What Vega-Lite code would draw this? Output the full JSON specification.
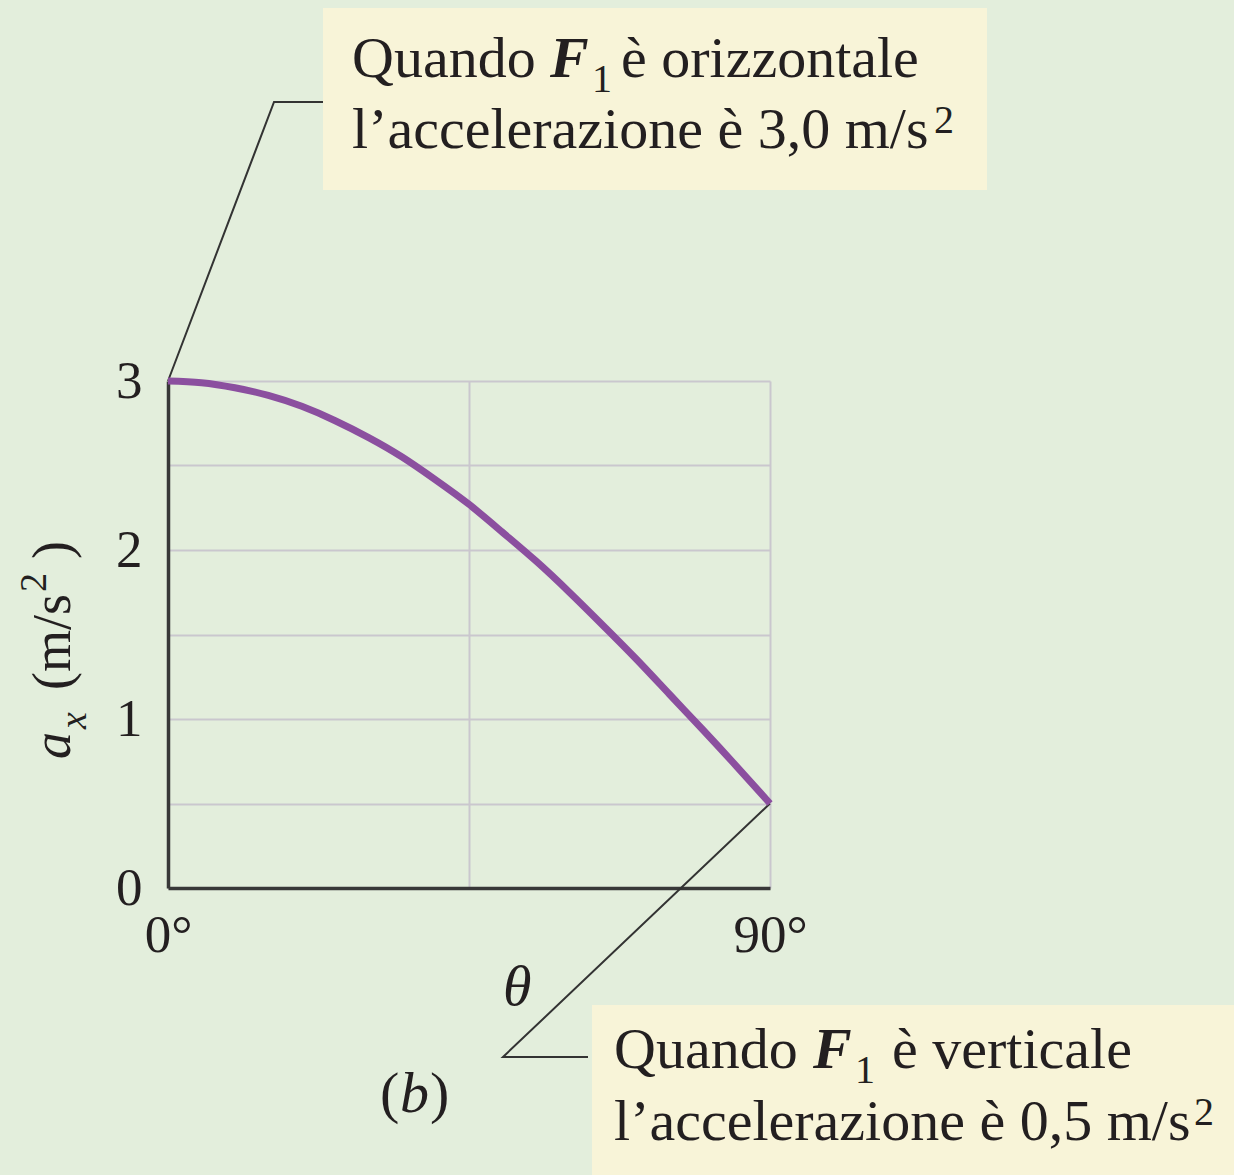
{
  "$schema": "https://vega.github.io/schema/vega-lite/v6.json",
  "width": 602,
  "height": 507,
  "autosize": {"type": "none"},
  "padding": {"left": 168, "top": 381, "right": 464, "bottom": 287},
  "background": "#e3eedc",
  "config": {"view": {"stroke": null}},
  "encoding": {
    "x": {
      "field": "x", "type": "quantitative",
      "scale": {"domain": [0, 90], "nice": false, "zero": false},
      "axis": {
        "values": [0, 45, 90], "title": null, "grid": true, "gridColor": "#cac7ce", "gridWidth": 2,
        "ticks": false, "tickSize": 0, "domainColor": "#383838", "domainWidth": 3.5,
        "labelFont": "Liberation Serif", "labelFontSize": 53, "labelColor": "#231f20",
        "labelBaseline": "alphabetic", "labelPadding": 63, "labelFlush": false, "labelOverlap": false,
        "labelExpr": "datum.value == 45 ? '' : datum.value + '°'"
      }
    },
    "y": {
      "field": "y", "type": "quantitative",
      "scale": {"domain": [0, 3], "nice": false, "zero": false},
      "axis": {
        "values": [0, 0.5, 1, 1.5, 2, 2.5, 3], "title": null, "grid": true, "gridColor": "#cac7ce", "gridWidth": 2,
        "ticks": false, "tickSize": 0, "domainColor": "#383838", "domainWidth": 3.5,
        "labelFont": "Liberation Serif", "labelFontSize": 53, "labelColor": "#231f20",
        "labelBaseline": "middle", "labelPadding": 26, "labelFlush": false, "labelOverlap": false,
        "labelExpr": "datum.value % 1 == 0 ? format(datum.value, 'd') : ''"
      }
    }
  },
  "layer": [
    {
      "data": {"values": [
        {"x": 23.17, "x2": 122.44, "y": 5.207, "y2": 4.130},
        {"x": 63.39, "x2": 160.5, "y": -0.692, "y2": -1.75}
      ]},
      "mark": {"type": "rect", "color": "#f8f4d8"},
      "encoding": {"x2": {"field": "x2"}, "y2": {"field": "y2"}}
    },
    {
      "data": {"values": [
        {"x": 0, "y": 3, "g": "top", "o": 1},
        {"x": 15.85, "y": 4.651, "g": "top", "o": 2},
        {"x": 23.17, "y": 4.651, "g": "top", "o": 3},
        {"x": 90, "y": 0.5, "g": "bottom", "o": 1},
        {"x": 50.08, "y": -1.0, "g": "bottom", "o": 2},
        {"x": 62.79, "y": -1.0, "g": "bottom", "o": 3}
      ]},
      "mark": {"type": "line", "color": "#333333", "strokeWidth": 2},
      "encoding": {"detail": {"field": "g"}, "order": {"field": "o"}}
    },
    {
      "data": {"values": [
        {"x": 0, "y": 3.00}, {"x": 5, "y": 2.99}, {"x": 10, "y": 2.96}, {"x": 15, "y": 2.915},
        {"x": 20, "y": 2.85}, {"x": 25, "y": 2.765}, {"x": 30, "y": 2.665}, {"x": 35, "y": 2.55},
        {"x": 40, "y": 2.415}, {"x": 45, "y": 2.27}, {"x": 50, "y": 2.105}, {"x": 55, "y": 1.935},
        {"x": 60, "y": 1.75}, {"x": 65, "y": 1.555}, {"x": 70, "y": 1.355}, {"x": 75, "y": 1.145},
        {"x": 80, "y": 0.935}, {"x": 85, "y": 0.72}, {"x": 90, "y": 0.50}
      ]},
      "mark": {"type": "line", "color": "#8b4f9f", "strokeWidth": 7, "interpolate": "natural", "strokeCap": "butt"}
    },
    {
      "data": {"values": [
        {"t": "Quando", "x": 27.51, "y": 4.799},
        {"t": "è orizzontale", "x": 67.72, "y": 4.799},
        {"t": "l’accelerazione è 3,0 m/s", "x": 27.51, "y": 4.379},
        {"t": "Quando", "x": 66.68, "y": -1.065},
        {"t": "è verticale", "x": 108.24, "y": -1.065},
        {"t": "l’accelerazione è 0,5 m/s", "x": 66.68, "y": -1.491},
        {"t": "(", "x": 31.69, "y": -1.325},
        {"t": ")", "x": 39.17, "y": -1.325}
      ]},
      "mark": {"type": "text", "font": "Liberation Serif", "fontSize": 58, "align": "left", "baseline": "alphabetic", "color": "#231f20"},
      "encoding": {"text": {"field": "t"}}
    },
    {
      "data": {"values": [
        {"t": "F", "x": 57.11, "y": 4.799},
        {"t": "F", "x": 96.43, "y": -1.065}
      ]},
      "mark": {"type": "text", "font": "Liberation Serif", "fontSize": 58, "fontWeight": "bold", "fontStyle": "italic", "align": "left", "baseline": "alphabetic", "color": "#231f20"},
      "encoding": {"text": {"field": "t"}}
    },
    {
      "data": {"values": [
        {"t": "1", "x": 63.39, "y": 4.710},
        {"t": "2", "x": 114.52, "y": 4.467},
        {"t": "1", "x": 102.71, "y": -1.154},
        {"t": "2", "x": 153.4, "y": -1.402}
      ]},
      "mark": {"type": "text", "font": "Liberation Serif", "fontSize": 40, "align": "left", "baseline": "alphabetic", "color": "#231f20"},
      "encoding": {"text": {"field": "t"}}
    },
    {
      "data": {"values": [
        {"t": "θ", "x": 50.08, "y": -0.692},
        {"t": "b", "x": 34.68, "y": -1.325}
      ]},
      "mark": {"type": "text", "font": "Liberation Serif", "fontSize": 58, "fontStyle": "italic", "align": "left", "baseline": "alphabetic", "color": "#231f20"},
      "encoding": {"text": {"field": "t"}}
    },
    {
      "data": {"values": [
        {"t": "a", "x": -14.65, "y": 0.763}
      ]},
      "mark": {"type": "text", "font": "Liberation Serif", "fontSize": 54, "fontStyle": "italic", "angle": 270, "align": "left", "baseline": "alphabetic", "color": "#231f20"},
      "encoding": {"text": {"field": "t"}}
    },
    {
      "data": {"values": [
        {"t": "x", "x": -12.26, "y": 0.941}
      ]},
      "mark": {"type": "text", "font": "Liberation Serif", "fontSize": 38, "fontStyle": "italic", "angle": 270, "align": "left", "baseline": "alphabetic", "color": "#231f20"},
      "encoding": {"text": {"field": "t"}}
    },
    {
      "data": {"values": [
        {"t": "(m/s", "x": -14.65, "y": 1.172},
        {"t": ")", "x": -14.65, "y": 1.947}
      ]},
      "mark": {"type": "text", "font": "Liberation Serif", "fontSize": 54, "angle": 270, "align": "left", "baseline": "alphabetic", "color": "#231f20"},
      "encoding": {"text": {"field": "t"}}
    },
    {
      "data": {"values": [
        {"t": "2", "x": -18.24, "y": 1.751}
      ]},
      "mark": {"type": "text", "font": "Liberation Serif", "fontSize": 38, "angle": 270, "align": "left", "baseline": "alphabetic", "color": "#231f20"},
      "encoding": {"text": {"field": "t"}}
    }
  ]
}
